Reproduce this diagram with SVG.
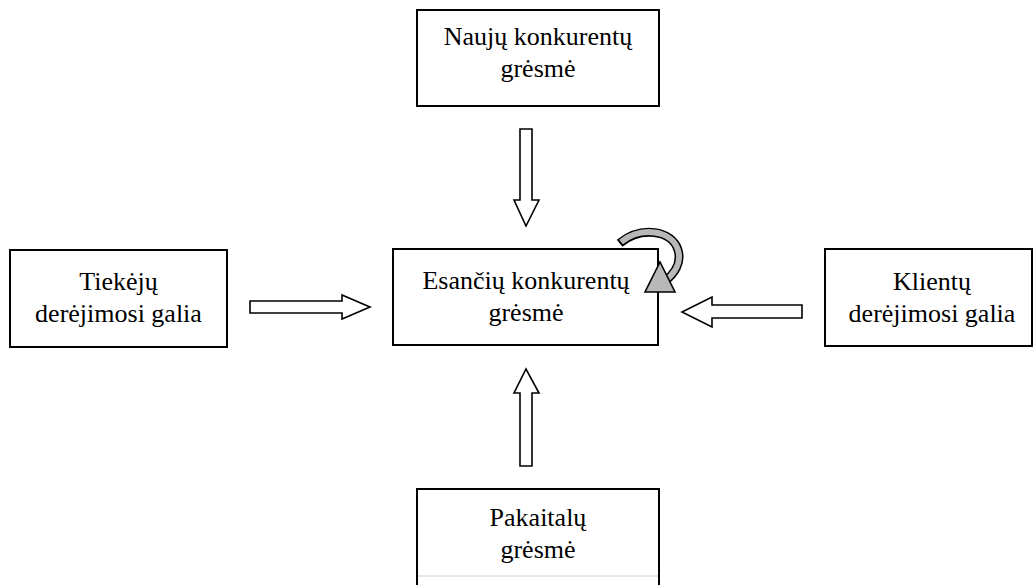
<svg xmlns="http://www.w3.org/2000/svg" width="1034" height="585" viewBox="0 0 1034 585">
  <style>
    .box { fill: #ffffff; stroke: #000000; stroke-width: 2; }
    .lbl { font-family: "Liberation Serif", "Times New Roman", serif; font-size: 26px; fill: #000000; text-anchor: middle; }
    .block { fill: #ffffff; stroke: #000000; stroke-width: 1.6; stroke-linejoin: miter; }
  </style>
  <rect x="0" y="0" width="1034" height="585" fill="#ffffff"/>

  <g id="node-naujos">
    <rect class="box" x="417" y="10" width="242" height="96"/>
    <text class="lbl" x="538" y="45">Naujų konkurentų</text>
    <text class="lbl" x="538" y="77">grėsmė</text>
  </g>

  <g id="node-esami">
    <rect class="box" x="393" y="249" width="265" height="96"/>
    <text class="lbl" x="526" y="289">Esančių konkurentų</text>
    <text class="lbl" x="526" y="321">grėsmė</text>
  </g>

  <g id="node-tiekejai">
    <rect class="box" x="10" y="250" width="217" height="97"/>
    <text class="lbl" x="118.5" y="290">Tiekėjų</text>
    <text class="lbl" x="118.5" y="322">derėjimosi galia</text>
  </g>

  <g id="node-klientai">
    <rect class="box" x="825" y="249" width="207" height="97"/>
    <text class="lbl" x="932" y="290">Klientų</text>
    <text class="lbl" x="932" y="322">derėjimosi galia</text>
  </g>

  <g id="node-pakaitalai">
    <rect class="box" x="417" y="489" width="242" height="110"/>
    <line x1="418" y1="576" x2="658" y2="576" stroke="#d0d0d0" stroke-width="1"/>
    <text class="lbl" x="538" y="526">Pakaitalų</text>
    <text class="lbl" x="538" y="558">grėsmė</text>
  </g>

  <g id="connectors">
    <!-- block arrow: new entrants -> rivalry -->
    <path class="block" d="M520,129 H532 V200 H539 L526,226 L514,200 H520 Z"/>
    <!-- block arrow: substitutes -> rivalry -->
    <path class="block" d="M520,466 H532 V393 H539 L526,369 L514,393 H520 Z"/>
    <!-- block arrow: suppliers -> rivalry -->
    <path class="block" d="M250,301 H342 V295 L370,307 L342,319 V313 H250 Z"/>
    <!-- block arrow: buyers -> rivalry -->
    <path class="block" d="M802,305 H712 V297 L682,312 L712,327 V318 H802 Z"/>
    <!-- curved self-arrow on rivalry box: outlined grey band -->
    <path d="M619.6,243.2 C641,226 672,230 678,250 C682,263 674,274 665,281" fill="none" stroke="#000000" stroke-width="9" stroke-linecap="butt"/>
    <path d="M621,242 C641,226 672,230 678,250 C682,263 674,274 665,281" fill="none" stroke="#b8b8b8" stroke-width="6" stroke-linecap="butt"/>
    <path d="M660,262 L675,292 L645,292 Z" fill="#b8b8b8" stroke="#000000" stroke-width="1.6" stroke-linejoin="miter"/>
  </g>
</svg>
